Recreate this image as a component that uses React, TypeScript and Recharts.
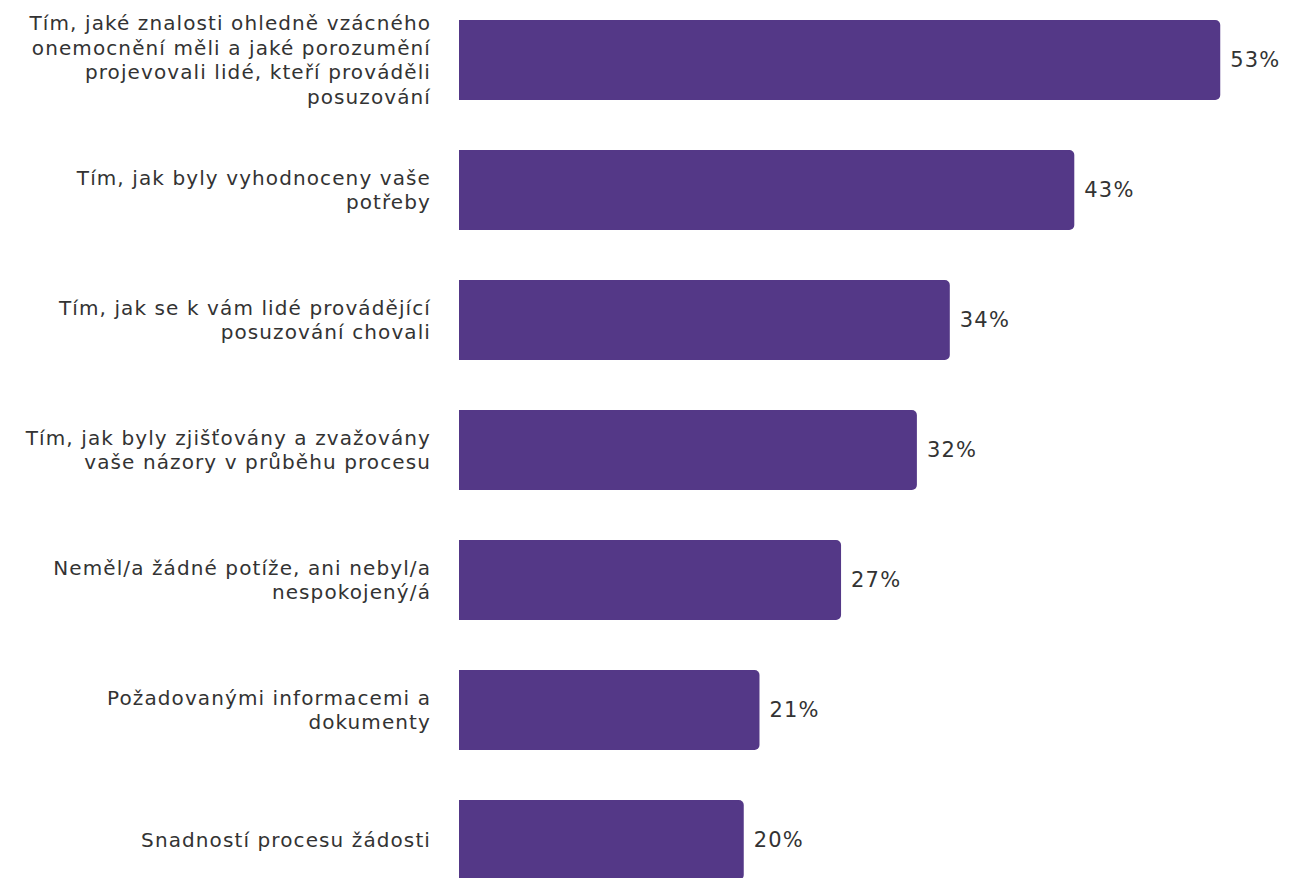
import React from 'react';
import { BarChart, Bar, XAxis, YAxis, LabelList } from 'recharts';

const categories: string[][] = [
  ['Tím, jaké znalosti ohledně vzácného', 'onemocnění měli a jaké porozumění', 'projevovali lidé, kteří prováděli', 'posuzování'],
  ['Tím, jak byly vyhodnoceny vaše', 'potřeby'],
  ['Tím, jak se k vám lidé provádějící', 'posuzování chovali'],
  ['Tím, jak byly zjišťovány a zvažovány', 'vaše názory v průběhu procesu'],
  ['Neměl/a žádné potíže, ani nebyl/a', 'nespokojený/á'],
  ['Požadovanými informacemi a', 'dokumenty'],
  ['Snadností procesu žádosti'],
];
const values: number[] = [53.2, 43.0, 34.3, 32.0, 26.7, 21.0, 19.9];
const valueLabels: string[] = ['53%', '43%', '34%', '32%', '27%', '21%', '20%'];

const data = categories.map((c, i) => ({ name: c.join('\n'), value: values[i], label: valueLabels[i] }));

const FONT = '"DejaVu Sans", Verdana, sans-serif';

const Tick = (props: any) => {
  const { x, y, payload } = props;
  const lines: string[] = String(payload.value).split('\n');
  const lh = 24.8;
  const start = -((lines.length - 1) * lh) / 2;
  return (
    <g transform={`translate(${x},${y})`}>
      {lines.map((l, i) => (
        <text
          key={i}
          x={0}
          y={start + i * lh}
          dy="0.35em"
          textAnchor="end"
          fill="#333333"
          fontSize={20}
          letterSpacing={1.1}
          fontFamily={FONT}
        >
          {l}
        </text>
      ))}
    </g>
  );
};

export default function App() {
  return (
    <div style={{ position: 'absolute', left: 0, top: -5 }}>
      <BarChart
        width={1307}
        height={910}
        data={data}
        layout="vertical"
        margin={{ top: 0, right: 61, bottom: 0, left: 0 }}
        barSize={80}
      >
        <XAxis type="number" hide domain={[0, 55]} />
        <YAxis
          type="category"
          dataKey="name"
          width={459}
          axisLine={false}
          tickLine={false}
          tickMargin={0}
          tick={(p: any) => <Tick {...p} x={431} />}
          interval={0}
        />
        <Bar dataKey="value" fill="#543887" radius={[0, 5, 5, 0]} isAnimationActive={false}>
          <LabelList
            dataKey="label"
            position="right"
            offset={10}
            fill="#333333"
            fontSize={21}
            letterSpacing={1.2}
            fontFamily={FONT}
          />
        </Bar>
      </BarChart>
    </div>
  );
}
